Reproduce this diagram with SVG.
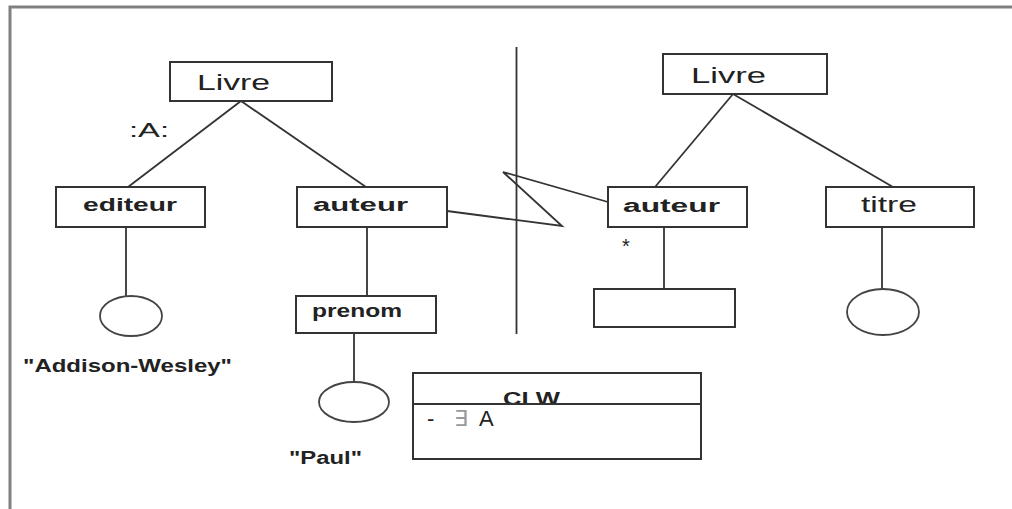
<svg xmlns="http://www.w3.org/2000/svg" width="1012" height="509" viewBox="0 0 1012 509">
<style>
  .box { fill: #fff; stroke: #333; stroke-width: 2; }
  .ell { fill: #fff; stroke: #444; stroke-width: 1.8; }
  .ln { fill: none; stroke: #333; stroke-width: 1.8; }
  .frame { fill: none; stroke: #808080; stroke-width: 3; }
  .t { font-family: "Liberation Sans", Arial, sans-serif; fill: #222; }
  .n { font-size: 22px; }
  .b { font-size: 18px; font-weight: bold; }
</style>
<rect x="0" y="0" width="1012" height="509" fill="#fff"/>
<path class="frame" d="M10,509 L10,7 L1012,7"/>

<g id="connectors">
  <line class="ln" x1="241" y1="101" x2="128" y2="187"/>
  <line class="ln" x1="241" y1="101" x2="366" y2="187"/>
  <line class="ln" x1="733" y1="94" x2="655" y2="187"/>
  <line class="ln" x1="733" y1="94" x2="893" y2="187"/>
  <line class="ln" x1="126" y1="227" x2="126" y2="296"/>
  <line class="ln" x1="367" y1="227" x2="367" y2="296"/>
  <line class="ln" x1="354" y1="333" x2="354" y2="382"/>
  <line class="ln" x1="664" y1="227" x2="664" y2="289"/>
  <line class="ln" x1="882" y1="227" x2="882" y2="289"/>
  <polyline class="ln" points="447,211 562,226 503,172 608,202"/>
  <line class="ln" x1="516.5" y1="47" x2="516.5" y2="334"/>
</g>

<g id="livre-left">
  <rect class="box" x="170" y="62" width="162" height="39"/>
  <text class="t n" x="197" y="90" textLength="73" lengthAdjust="spacingAndGlyphs">Livre</text>
</g>
<g id="label-A">
  <text class="t" x="129" y="137" font-size="20" textLength="40" lengthAdjust="spacingAndGlyphs">:A:</text>
</g>
<g id="editeur">
  <rect class="box" x="56" y="187" width="149" height="40"/>
  <text class="t b" x="83" y="211" textLength="94" lengthAdjust="spacingAndGlyphs">editeur</text>
</g>
<g id="auteur-left">
  <rect class="box" x="297" y="187" width="150" height="40"/>
  <text class="t b" x="313" y="211" font-size="19" textLength="95" lengthAdjust="spacingAndGlyphs">auteur</text>
</g>
<g id="editeur-value">
  <ellipse class="ell" cx="131" cy="316" rx="31" ry="20"/>
  <text class="t b" x="23" y="372" font-size="17" textLength="209" lengthAdjust="spacingAndGlyphs">"Addison-Wesley"</text>
</g>
<g id="prenom">
  <rect class="box" x="296" y="296" width="140" height="37"/>
  <text class="t b" x="312" y="317" font-size="17" textLength="90" lengthAdjust="spacingAndGlyphs">prenom</text>
</g>
<g id="prenom-value">
  <ellipse class="ell" cx="354" cy="402" rx="35" ry="20"/>
  <text class="t b" x="289" y="464" font-size="19" textLength="73" lengthAdjust="spacingAndGlyphs">"Paul"</text>
</g>

<g id="livre-right">
  <rect class="box" x="663" y="54" width="164" height="40"/>
  <text class="t n" x="691" y="83" textLength="75" lengthAdjust="spacingAndGlyphs">Livre</text>
</g>
<g id="auteur-right">
  <rect class="box" x="608" y="187" width="139" height="40"/>
  <text class="t b" x="623" y="212" font-size="19" textLength="97" lengthAdjust="spacingAndGlyphs">auteur</text>
  <text class="t" x="622" y="253" font-size="20">*</text>
</g>
<g id="titre">
  <rect class="box" x="826" y="187" width="148" height="40"/>
  <text class="t n" x="861" y="212" textLength="56" lengthAdjust="spacingAndGlyphs">titre</text>
</g>
<g id="auteur-right-child">
  <rect class="box" x="594" y="289" width="141" height="38"/>
</g>
<g id="titre-value">
  <ellipse class="ell" cx="883" cy="312" rx="36" ry="23"/>
</g>

<g id="clw">
  <rect class="box" x="413" y="373" width="288" height="86"/>
  <text class="t b" x="503" y="405" font-size="17" textLength="57" lengthAdjust="spacingAndGlyphs">CLW</text>
  <line class="ln" x1="413" y1="404" x2="701" y2="404" stroke-width="2"/>
  <text class="t" x="427" y="426" font-size="22"><tspan>-</tspan><tspan x="454" fill="#999">∃</tspan><tspan x="479">A</tspan></text>
</g>
</svg>
